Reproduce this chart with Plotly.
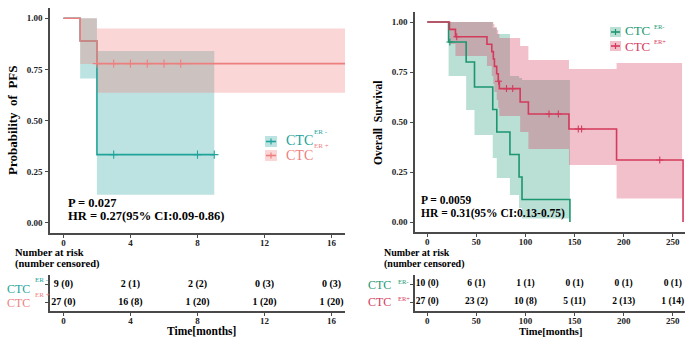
import numpy as np
import plotly.graph_objects as go

W, H = 699, 344
FONT = "Liberation Serif"

# ---------------- data: left panel (PFS, months) ----------------
pfs_neg_t = [0, 1, 2]
pfs_neg_s = [1.0, 0.889, 0.333]
pfs_neg_end = 9.0
pfs_neg_ci_start = [1, 2]
pfs_neg_ci_lo = [0.705, 0.137]
pfs_neg_ci_hi = [1.0, 0.84]
pfs_neg_cens = [3, 8, 9]

pfs_pos_t = [0, 1, 2]
pfs_pos_s = [1.0, 0.889, 0.778]
pfs_pos_end = 17.0
pfs_pos_ci_start = [1, 2]
pfs_pos_ci_lo = [0.776, 0.636]
pfs_pos_ci_hi = [1.0, 0.95]
pfs_pos_cens = [2, 3, 4, 5, 6, 7]

pfs_ticks = [0, 4, 8, 12, 16]
pfs_risk_neg = ["9 (0)", "2 (1)", "2 (2)", "0 (3)", "0 (3)"]
pfs_risk_pos = ["27 (0)", "16 (8)", "1 (20)", "1 (20)", "1 (20)"]

# ---------------- data: right panel (OS) ----------------
os_neg_t = [0, 21.7, 39.6, 48.1, 66.7, 70.8, 84.2, 93.5, 96.5, 145.3]
os_neg_s = [1.0, 0.9, 0.8, 0.675, 0.5625, 0.45, 0.3375, 0.225, 0.1125, 0.0]
os_neg_ci_start = [21.7, 39.6, 48.1, 66.7, 70.8, 84.2, 93.5, 96.5]
os_neg_ci_lo = [0.73, 0.56, 0.435, 0.32, 0.22, 0.135, 0.07, 0.018]
os_neg_ci_hi = [1.0, 1.0, 1.0, 0.97, 0.94, 0.73, 0.72, 0.71]
os_neg_ci_end = 145.3
os_neg_cens = [23]

os_pos_t = [0, 22.6, 28.7, 60.8, 65.7, 67.3, 68.4, 70.7, 72.3, 73.4, 94.6, 103.0, 144.3, 192.8, 260.5]
os_pos_s = [1.0, 0.963, 0.926, 0.889, 0.852, 0.815, 0.778, 0.741, 0.704, 0.667, 0.60, 0.54, 0.465, 0.31, 0.0]
os_pos_ci_start = [22.6, 28.7, 60.8, 65.7, 67.3, 68.4, 70.7, 72.3, 73.4, 94.6, 103.0, 144.3, 192.8]
os_pos_ci_lo = [0.89, 0.83, 0.78, 0.73, 0.69, 0.65, 0.61, 0.57, 0.53, 0.45, 0.365, 0.285, 0.118]
os_pos_ci_hi = [1.0, 1.0, 1.0, 1.0, 0.99, 0.975, 0.96, 0.94, 0.92, 0.88, 0.81, 0.765, 0.795]
os_pos_ci_end = 259.5
os_pos_cens = [30, 72.6, 80.7, 87.0, 124, 133.5, 153.8, 157.2, 236.8]

os_ticks = [0, 50, 100, 150, 200, 250]
os_risk_neg = ["10 (0)", "6 (1)", "1 (1)", "0 (1)", "0 (1)", "0 (1)"]
os_risk_pos = ["27 (0)", "23 (2)", "10 (8)", "5 (11)", "2 (13)", "1 (14)"]

y_ticks = [0, 0.25, 0.5, 0.75, 1.0]
y_ticktext = ["0.00", "0.25", "0.50", "0.75", "1.00"]

# colours
L_TEAL, L_PINK = "#20A39A", "#EE7F7F"
L_TEAL_F, L_PINK_F = "rgba(32,163,154,0.30)", "rgba(240,128,128,0.32)"
R_GREEN, R_RED = "#1B9670", "#D33A5C"
R_GREEN_F, R_RED_F = "rgba(27,150,112,0.30)", "rgba(212,58,92,0.32)"
AX = "#4a4a4a"


def px(x):
    return x / W


def py(y):
    return 1 - y / H


def band_xy(starts, end, lo, hi):
    edges = list(starts) + [end]
    xs, ys = [], []
    for i in range(len(starts)):
        xs += [edges[i], edges[i + 1]]
        ys += [hi[i], hi[i]]
    for i in reversed(range(len(starts))):
        xs += [edges[i + 1], edges[i]]
        ys += [lo[i], lo[i]]
    xs.append(xs[0]); ys.append(ys[0])
    return xs, ys


def surv_at(times, surv, t):
    idx = np.searchsorted(np.array(times), np.array(t), side="right") - 1
    return [surv[i] for i in idx]


fig = go.Figure()


def add_band(starts, end, lo, hi, color, xa, ya):
    xs, ys = band_xy(starts, end, lo, hi)
    fig.add_trace(go.Scatter(x=xs, y=ys, fill="toself", fillcolor=color, mode="lines",
                             line=dict(width=0), xaxis=xa, yaxis=ya, hoverinfo="skip",
                             showlegend=False))


def add_curve(times, surv, end, color, xa, ya, width=1.6):
    xs = list(times) + ([end] if end is not None else [])
    ys = list(surv) + ([surv[-1]] if end is not None else [])
    fig.add_trace(go.Scatter(x=xs, y=ys, mode="lines", line=dict(color=color, width=width, shape="hv"),
                             xaxis=xa, yaxis=ya, showlegend=False))


def add_cens(times, surv, cens, color, xa, ya, size):
    fig.add_trace(go.Scatter(x=cens, y=surv_at(times, surv, cens), mode="markers",
                             marker=dict(symbol="cross-thin", size=size, line=dict(color=color, width=1.1)),
                             xaxis=xa, yaxis=ya, showlegend=False))


# left panel
add_band(pfs_neg_ci_start, pfs_neg_end, pfs_neg_ci_lo, pfs_neg_ci_hi, L_TEAL_F, "x", "y")
add_band(pfs_pos_ci_start, pfs_pos_end, pfs_pos_ci_lo, pfs_pos_ci_hi, L_PINK_F, "x", "y")
add_curve(pfs_neg_t, pfs_neg_s, pfs_neg_end, L_TEAL, "x", "y")
add_curve(pfs_pos_t, pfs_pos_s, pfs_pos_end, L_PINK, "x", "y")
add_cens(pfs_neg_t, pfs_neg_s, pfs_neg_cens, L_TEAL, "x", "y", 6)
add_cens(pfs_pos_t, pfs_pos_s, pfs_pos_cens, L_PINK, "x", "y", 6)

# right panel
add_band(os_neg_ci_start, os_neg_ci_end, os_neg_ci_lo, os_neg_ci_hi, R_GREEN_F, "x3", "y3")
add_band(os_pos_ci_start, os_pos_ci_end, os_pos_ci_lo, os_pos_ci_hi, R_RED_F, "x3", "y3")
add_curve(os_neg_t, os_neg_s, None, R_GREEN, "x3", "y3")
add_curve(os_pos_t, os_pos_s, None, R_RED, "x3", "y3")
add_cens(os_neg_t, os_neg_s, os_neg_cens, R_GREEN, "x3", "y3", 5)
add_cens(os_pos_t, os_pos_s, os_pos_cens, R_RED, "x3", "y3", 5)

# risk tables
tf = dict(family=FONT, size=10, color="black", weight="bold")
fig.add_trace(go.Scatter(x=pfs_ticks, y=[2] * len(pfs_ticks), text=pfs_risk_neg, mode="text",
                         textfont=tf, xaxis="x2", yaxis="y2", showlegend=False))
fig.add_trace(go.Scatter(x=pfs_ticks, y=[1] * len(pfs_ticks), text=pfs_risk_pos, mode="text",
                         textfont=tf, xaxis="x2", yaxis="y2", showlegend=False))
tf2 = dict(tf, size=9.5)
fig.add_trace(go.Scatter(x=os_ticks, y=[2] * len(os_ticks), text=os_risk_neg, mode="text",
                         textfont=tf2, xaxis="x4", yaxis="y4", showlegend=False))
fig.add_trace(go.Scatter(x=os_ticks, y=[1] * len(os_ticks), text=os_risk_pos, mode="text",
                         textfont=tf2, xaxis="x4", yaxis="y4", showlegend=False))

tickfont = dict(family=FONT, size=9, color="#222", weight="bold")
axcommon = dict(showline=True, linecolor=AX, linewidth=1.6, showgrid=False, zeroline=False,
                ticks="outside", ticklen=3, tickwidth=1, tickcolor=AX, tickfont=tickfont)
xcommon = dict(axcommon, ticklabelstandoff=-3)
ycommon = dict(axcommon, ticklabelstandoff=1)

L_X = [px(50), px(345)]
R_X = [px(415), px(685)]
TBL_Y = [py(311), py(275)]

fig.update_layout(
    width=W, height=H, margin=dict(l=0, r=0, t=0, b=0), autosize=False,
    paper_bgcolor="white", plot_bgcolor="white", showlegend=False,
    xaxis=dict(domain=L_X, range=[-0.8, 16.8], tickvals=pfs_ticks, anchor="y", **xcommon),
    yaxis=dict(domain=[py(233), py(8)], range=[-0.05, 1.05], tickvals=y_ticks, ticktext=y_ticktext,
               anchor="x", **ycommon),
    xaxis2=dict(domain=L_X, range=[-0.8, 16.8], tickvals=pfs_ticks, anchor="y2", **xcommon),
    yaxis2=dict(domain=TBL_Y, range=[0.5, 2.5], tickvals=[1, 2], ticktext=["", ""], anchor="x2",
                **ycommon),
    xaxis3=dict(domain=R_X, range=[-12.5, 262.5], tickvals=os_ticks, anchor="y3", **xcommon),
    yaxis3=dict(domain=[py(232), py(12)], range=[-0.05, 1.05], tickvals=y_ticks, ticktext=y_ticktext,
                anchor="x3", **ycommon),
    xaxis4=dict(domain=R_X, range=[-12.5, 262.5], tickvals=os_ticks, anchor="y4", **xcommon),
    yaxis4=dict(domain=TBL_Y, range=[0.5, 2.5], tickvals=[1, 2], ticktext=["", ""], anchor="x4",
                **ycommon),
)

ann = []


def A(text, x, y, size, color="black", bold=True, xanchor="left", angle=0):
    ann.append(dict(text=text, x=px(x), y=py(y), xref="paper", yref="paper", showarrow=False,
                    xanchor=xanchor, yanchor="middle", textangle=angle,
                    font=dict(family=FONT, size=size, color=color, weight="bold" if bold else "normal")))


# axis titles
A("Probability  of  PFS", 13, 120, 13, xanchor="center", angle=-90)
A("Overall  Survival", 378, 123, 11.5, xanchor="center", angle=-90)
A("Time[months]", 201, 331, 11.5, xanchor="center")
A("Time[months]", 550, 331, 10.5, xanchor="center")

# stats
A("P = 0.027", 66, 202.5, 12.5)
A("HR = 0.27(95% CI:0.09-0.86)", 66, 216, 12.5)
A("P = 0.0059", 419, 199.5, 11.5)
A("HR = 0.31(95% CI:0.13-0.75)", 419, 213, 11.5)

# risk table headers
A("Number at risk", 13, 252.5, 10.5)
A("(number censored)", 13, 263.5, 10.5)
A("Number at risk", 382, 252.5, 10)
A("(number censored)", 382, 263.5, 10)

# risk table row labels
A("CTC", 32, 288.5, 12, L_TEAL, bold=False, xanchor="right")
A("ER -", 33, 280, 7, L_TEAL, bold=False)
A("CTC", 32, 303, 12, L_PINK, bold=False, xanchor="right")
A("ER +", 33, 294.5, 7, L_PINK, bold=False)
A("CTC", 393, 285, 12, R_GREEN, bold=False, xanchor="right")
A("ER-", 396, 281, 6.5, R_GREEN, bold=False)
A("CTC", 393, 302, 12, R_RED, bold=False, xanchor="right")
A("ER+", 396, 298, 6.5, R_RED, bold=False)

# legends
A("CTC", 284, 140, 14, L_TEAL, bold=False)
A("ER -", 312, 132, 7, L_TEAL, bold=False)
A("CTC", 284, 155, 14, L_PINK, bold=False)
A("ER +", 312, 146, 7, L_PINK, bold=False)
A("CTC", 623, 31, 13, R_GREEN, bold=False)
A("ER-", 652, 26, 6.5, R_GREEN, bold=False)
A("CTC", 623, 46, 13, R_RED, bold=False)
A("ER+", 652, 41, 6.5, R_RED, bold=False)

fig.update_layout(annotations=ann)

shapes = []


def legend_key(x0, x1, y0, y1, fill, color):
    yc = (y0 + y1) / 2
    xc = (x0 + x1) / 2
    shapes.append(dict(type="rect", xref="paper", yref="paper", x0=px(x0), x1=px(x1), y0=py(y1), y1=py(y0),
                       fillcolor=fill, line=dict(width=0)))
    shapes.append(dict(type="line", xref="paper", yref="paper", x0=px(x0 + 1), x1=px(x1 - 1), y0=py(yc), y1=py(yc),
                       line=dict(color=color, width=1.6)))
    shapes.append(dict(type="line", xref="paper", yref="paper", x0=px(xc), x1=px(xc), y0=py(yc - 3), y1=py(yc + 3),
                       line=dict(color=color, width=1.2)))


legend_key(265, 277, 136, 147, L_TEAL_F, L_TEAL)
legend_key(265, 277, 150, 161, L_PINK_F, L_PINK)
legend_key(610, 621, 27, 37, R_GREEN_F, R_GREEN)
legend_key(610, 621, 41, 51, R_RED_F, R_RED)
fig.update_layout(shapes=shapes)

fig.write_html("out.html")
